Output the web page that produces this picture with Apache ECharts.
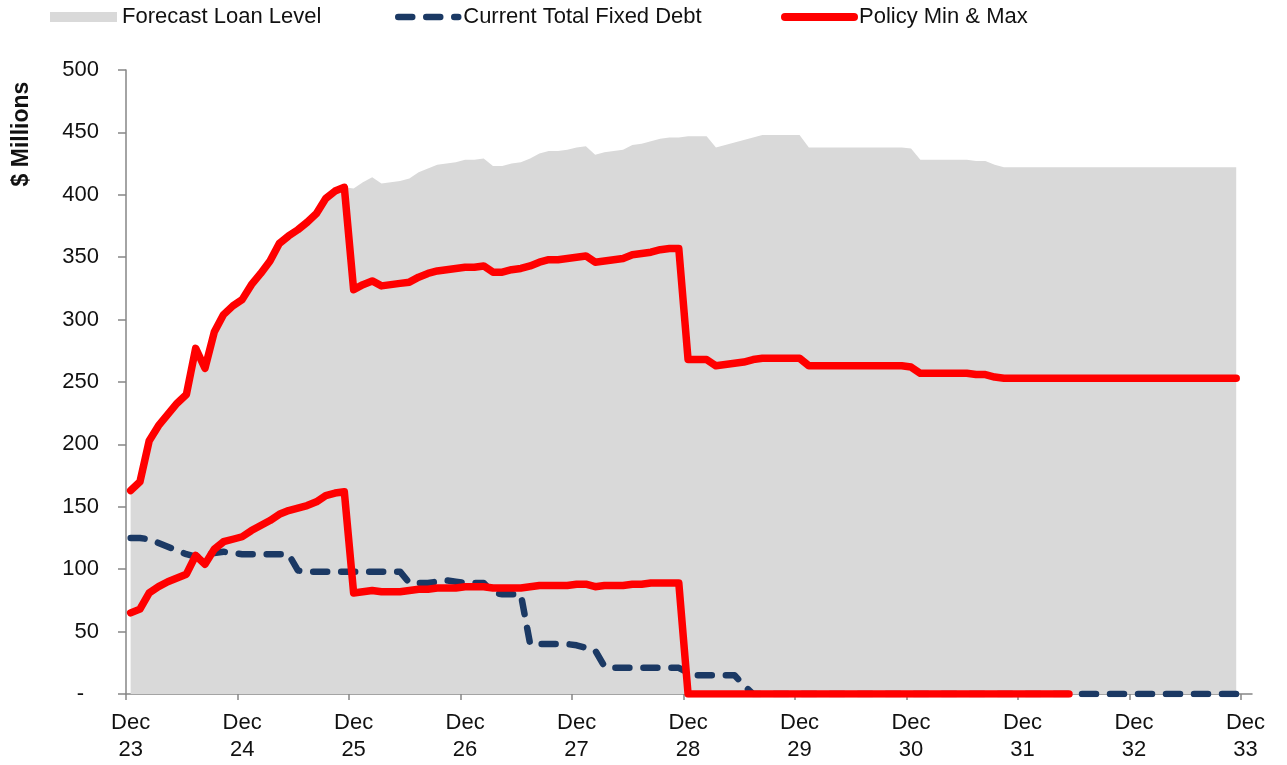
<!DOCTYPE html>
<html>
<head>
<meta charset="utf-8">
<script src="https://cdn.jsdelivr.net/npm/echarts@6/dist/echarts.min.js"></script>
<style>
  html, body { margin: 0; padding: 0; background: #ffffff; }
  #chart { width: 1287px; height: 765px; }
</style>
</head>
<body>
<div id="chart"></div>
<script>
// Year-end tick labels (one every 12 months)
const tickLabels = ['Dec\n23', 'Dec\n24', 'Dec\n25', 'Dec\n26', 'Dec\n27', 'Dec\n28',
                    'Dec\n29', 'Dec\n30', 'Dec\n31', 'Dec\n32', 'Dec\n33'];

// Monthly forecast loan level, $M
const loanLevel = [
  163, 170, 203, 215, 224, 233, 240, 277, 261, 290, 304, 311,
  316, 328, 337, 347, 361, 367, 372, 378, 385, 397, 403, 406,
  405, 410, 414, 409, 410, 411, 413, 418, 421, 424, 425, 426,
  428, 428, 429, 423, 423, 425, 426, 429, 433, 435, 435, 436,
  438, 439, 432, 434, 435, 436, 440, 441, 443, 445, 446, 446,
  447, 447, 447, 438, 440, 442, 444, 446, 448, 448, 448, 448,
  448, 438, 438, 438, 438, 438, 438, 438, 438, 438, 438, 438,
  437, 428, 428, 428, 428, 428, 428, 427, 427, 424, 422, 422,
  422, 422, 422, 422, 422, 422, 422, 422, 422, 422, 422, 422,
  422, 422, 422, 422, 422, 422, 422, 422, 422, 422, 422, 422
];

// Monthly current total fixed debt, $M
const fixedDebt = [
  125, 125, 124, 121, 118, 115, 112, 110, 111, 113, 114, 113,
  112, 112, 112, 112, 112, 112,  99,  98,  98,  98,  98,  98,
   98,  98,  98,  98,  98,  98,  89,  89,  89,  90,  91,  90,
   89,  89,  89,  81,  80,  80,  80,  40,  40,  40,  40,  40,
   39,  37,  35,  22,  21,  21,  21,  21,  21,  21,  21,  21,
   17,  15,  15,  15,  15,  15,   7,   0,   0,   0,   0,   0,
    0,   0,   0,   0,   0,   0,   0,   0,   0,   0,   0,   0,
    0,   0,   0,   0,   0,   0,   0,   0,   0,   0,   0,   0,
    0,   0,   0,   0,   0,   0,   0,   0,   0,   0,   0,   0,
    0,   0,   0,   0,   0,   0,   0,   0,   0,   0,   0,   0
];

// Policy maximum fixed-rate level, $M
const policyMax = [
  163, 170, 203, 215, 224, 233, 240, 277, 261, 290, 304, 311,
  316, 328, 337, 347, 361, 367, 372, 378, 385, 397, 403, 406,
  324, 328, 331, 327, 328, 329, 330, 334, 337, 339, 340, 341,
  342, 342, 343, 338, 338, 340, 341, 343, 346, 348, 348, 349,
  350, 351, 346, 347, 348, 349, 352, 353, 354, 356, 357, 357,
  268, 268, 268, 263, 264, 265, 266, 268, 269, 269, 269, 269,
  269, 263, 263, 263, 263, 263, 263, 263, 263, 263, 263, 263,
  262, 257, 257, 257, 257, 257, 257, 256, 256, 254, 253, 253,
  253, 253, 253, 253, 253, 253, 253, 253, 253, 253, 253, 253,
  253, 253, 253, 253, 253, 253, 253, 253, 253, 253, 253, 253
];

// Policy minimum fixed-rate level, $M
const policyMin = [
   65,  68,  81,  86,  90,  93,  96, 111, 104, 116, 122, 124,
  126, 131, 135, 139, 144, 147, 149, 151, 154, 159, 161, 162,
   81,  82,  83,  82,  82,  82,  83,  84,  84,  85,  85,  85,
   86,  86,  86,  85,  85,  85,  85,  86,  87,  87,  87,  87,
   88,  88,  86,  87,  87,  87,  88,  88,  89,  89,  89,  89,
    0,   0,   0,   0,   0,   0,   0,   0,   0,   0,   0,   0,
    0,   0,   0,   0,   0,   0,   0,   0,   0,   0,   0,   0,
    0,   0,   0,   0,   0,   0,   0,   0,   0,   0,   0,   0,
    0,   0,   0,   0,   0,   0
];

const MONTHS_PER_YEAR = 12;
const FONT = '"Liberation Sans", Arial, Helvetica, sans-serif';
const TEXT_COLOR = '#111111';
const AXIS_COLOR = '#868686';
const GREY = '#d9d9d9';
const NAVY = '#1b3964';
const RED = '#ff0000';

const debtLine = { color: NAVY, width: 6.5, type: [14, 14], cap: 'round', join: 'round' };
const policyLine = { color: RED, width: 7.5, cap: 'round', join: 'round' };

// Each monthly value sits in the middle of its month on a month-based value axis
const toPoints = arr => arr.map((v, i) => [i + 0.5, v]);

const tickValues = tickLabels.map((_, k) => k * MONTHS_PER_YEAR);
const lastTick = tickValues[tickValues.length - 1];

const textStyle = { fontFamily: FONT, fontSize: 22, color: TEXT_COLOR };

const chart = echarts.init(document.getElementById('chart'));

chart.setOption({
  animation: false,
  backgroundColor: '#ffffff',
  grid: { left: 126, right: 35, top: 70, bottom: 71, containLabel: false, outerBoundsMode: 'none' },
  legend: [
    {
      data: [{ name: 'Forecast Loan Level', icon: 'rect' }],
      left: 50, top: 6, padding: 0,
      itemWidth: 67, itemHeight: 10,
      itemStyle: { color: GREY, borderWidth: 0 },
      textStyle: textStyle
    },
    {
      data: ['Current Total Fixed Debt'],
      left: 395, top: 6, padding: 0,
      itemWidth: 60, itemHeight: 2,
      itemStyle: { color: NAVY, borderWidth: 0 },
      lineStyle: debtLine,
      textStyle: textStyle
    },
    {
      data: ['Policy Min & Max'],
      left: 781, top: 6, padding: 0,
      itemWidth: 69, itemHeight: 2,
      itemStyle: { color: RED, borderWidth: 0 },
      lineStyle: { color: RED, width: 8, cap: 'round' },
      textStyle: textStyle
    }
  ],
  graphic: [{
    type: 'text',
    x: 22, y: 134,
    rotation: Math.PI / 2,
    style: {
      text: '$ Millions',
      font: 'bold 23px ' + FONT,
      fill: TEXT_COLOR,
      textAlign: 'center', textVerticalAlign: 'middle',
      align: 'center', verticalAlign: 'middle'
    }
  }],
  xAxis: {
    type: 'value',
    min: 0,
    max: lastTick + 1.2,
    splitLine: { show: false },
    axisLine: { show: true, lineStyle: { color: AXIS_COLOR, width: 1.5 } },
    axisTick: {
      show: true, length: 6, customValues: tickValues,
      lineStyle: { color: AXIS_COLOR, width: 1.5 }
    },
    axisLabel: {
      customValues: tickValues.map(v => v + 0.5),
      formatter: v => tickLabels[Math.round((v - 0.5) / MONTHS_PER_YEAR)] || '',
      fontFamily: FONT, fontSize: 22, color: TEXT_COLOR,
      lineHeight: 27, margin: 15
    }
  },
  yAxis: {
    type: 'value',
    min: 0, max: 500, interval: 50,
    splitLine: { show: false },
    axisLine: { show: true, lineStyle: { color: AXIS_COLOR, width: 1.5 } },
    axisTick: { show: true, length: 8, lineStyle: { color: AXIS_COLOR, width: 1.5 } },
    axisLabel: {
      margin: 27,
      fontFamily: FONT, fontSize: 22, color: TEXT_COLOR,
      formatter: v => (v === 0 ? '{z|-}' : String(v)),
      rich: {
        z: { fontFamily: FONT, fontSize: 22, color: TEXT_COLOR, padding: [0, 15, 0, 0] }
      }
    }
  },
  series: [
    {
      name: 'Forecast Loan Level',
      type: 'line',
      data: toPoints(loanLevel),
      symbol: 'none',
      silent: true,
      color: GREY,
      itemStyle: { color: GREY },
      lineStyle: { width: 0, color: GREY },
      areaStyle: { color: GREY, opacity: 1 }
    },
    {
      name: 'Current Total Fixed Debt',
      type: 'line',
      data: toPoints(fixedDebt),
      symbol: 'none',
      color: NAVY,
      itemStyle: { color: NAVY },
      lineStyle: debtLine
    },
    {
      name: 'Policy Min & Max',
      type: 'line',
      data: toPoints(policyMax),
      symbol: 'none',
      color: RED,
      itemStyle: { color: RED },
      lineStyle: policyLine
    },
    {
      name: 'Policy Min & Max',
      type: 'line',
      data: toPoints(policyMin),
      symbol: 'none',
      color: RED,
      itemStyle: { color: RED },
      lineStyle: policyLine
    }
  ]
});
</script>
</body>
</html>
